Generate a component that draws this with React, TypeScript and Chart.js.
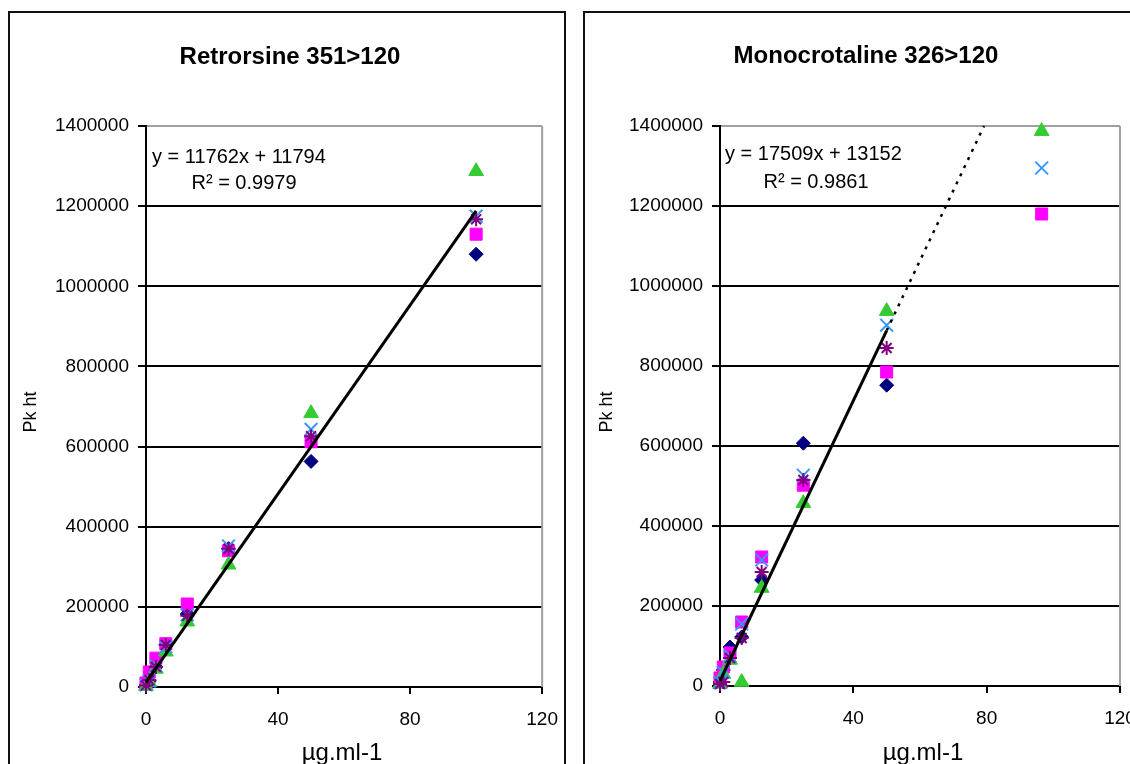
import React, { useEffect, useRef } from "react";
import { Chart, registerables } from "chart.js";

Chart.register(...registerables);

// ---------- Data ----------
const xTickValues = [0, 40, 80, 120];
const yTickValues = [0, 200000, 400000, 600000, 800000, 1000000, 1200000, 1400000];

// Retrorsine 351>120
const retConc = [0, 1, 3, 6, 12.5, 25, 50, 100];
const retNavy = [5000, 15000, 50000, 105000, 182000, 345000, 563000, 1080000];
const retMagenta = [10000, 37500, 72000, 108000, 207000, 340000, 612000, 1130000];
const retGreen = [2000, 12000, 45000, 88000, 163000, 305000, 683000, 1287000];
const retCyan = [5000, 15000, 52000, 100000, 180000, 352000, 643000, 1175000];
const retPurple = [4000, 17500, 50000, 105000, 178000, 345000, 626000, 1167000];
const retSlope = 11762;
const retIntercept = 11794;
const retFitRange = [0, 100];

// Monocrotaline 326>120
const monoConc = [0, 1, 3, 6.5, 12.5, 25, 50, 96.5];
const monoNavy = [10000, 40000, 97500, 122500, 265000, 607000, 752000, null];
const monoMagenta = [20000, 47500, 82500, 160000, 322500, 502000, 785000, 1180000];
const monoGreen = [5000, 30000, 65000, 10000, 245000, 457000, 937000, 1387000];
const monoCyan = [8000, 35000, 75000, 155000, 315000, 527000, 902000, 1295000];
const monoPurple = [5000, 10000, 70000, 120000, 285000, 515000, 845000, null];
const monoSlope = 17509;
const monoIntercept = 13152;
const monoFitRange = [0, 50];
const yMax = 1400000;

const FONT = '"Liberation Sans", Arial, Helvetica, sans-serif';

type Pt = { x: number; y: number };
const pts = (xs: number[], ys: (number | null)[]): Pt[] =>
  xs.map((x, i) => (ys[i] == null ? null : { x, y: ys[i] as number })).filter(Boolean) as Pt[];

function markerSets(xs: number[], navy: (number | null)[], magenta: (number | null)[], green: (number | null)[], cyan: (number | null)[], purple: (number | null)[]) {
  return [
    { label: "5", data: pts(xs, purple), pointStyle: "star", pointRadius: 7, borderColor: "#800080", backgroundColor: "#800080", pointBorderWidth: 2, showLine: false, clip: 20 },
    { label: "4", data: pts(xs, cyan), pointStyle: "crossRot", pointRadius: 9, borderColor: "#3399ff", backgroundColor: "#3399ff", pointBorderWidth: 2, showLine: false, clip: 20 },
    { label: "3", data: pts(xs, green), pointStyle: "triangle", pointRadius: 8.5, borderColor: "#33cc33", backgroundColor: "#33cc33", pointBorderWidth: 1, showLine: false, clip: 20 },
    { label: "2", data: pts(xs, magenta), pointStyle: "rect", pointRadius: 8.5, borderColor: "#ff00ff", backgroundColor: "#ff00ff", pointBorderWidth: 1, showLine: false, clip: 20 },
    { label: "1", data: pts(xs, navy), pointStyle: "rectRot", pointRadius: 7, borderColor: "#000080", backgroundColor: "#000080", pointBorderWidth: 1, showLine: false, clip: 20 },
  ];
}

type PanelCfg = {
  canvasLeft: number;
  canvasWidth: number;
  pad: { left: number; right: number; top: number; bottom: number };
  borderLeft: number;
  borderRight: number;
  title: string;
  titleX: number;
  titleY: number;
  yTitleX: number;
  xTitleX: number;
  eq: string;
  eqX: number;
  eqY: number;
  r2: string;
  r2X: number;
  r2Y: number;
  datasets: any[];
};

const H = 764;

function Panel({ cfg }: { cfg: PanelCfg }) {
  const ref = useRef<HTMLCanvasElement | null>(null);
  useEffect(() => {
    if (!ref.current) return;
    const ox = cfg.canvasLeft;
    const deco = {
      id: "deco",
      beforeDraw(chart: any) {
        const c = chart.ctx;
        c.save();
        c.fillStyle = "#ffffff";
        c.fillRect(0, 0, chart.width, chart.height);
        c.strokeStyle = "#111";
        c.lineWidth = 2;
        c.strokeRect(cfg.borderLeft - ox, 12, cfg.borderRight - cfg.borderLeft, 820);
        c.restore();
      },
      afterDraw(chart: any) {
        const c = chart.ctx;
        const a = chart.chartArea;
        c.save();
        c.strokeStyle = "#a0a0a0";
        c.lineWidth = 2;
        c.beginPath();
        c.moveTo(a.right, a.top);
        c.lineTo(a.right, a.bottom);
        c.stroke();
        c.fillStyle = "#000";
        c.textAlign = "center";
        c.textBaseline = "alphabetic";
        c.font = `bold 24px ${FONT}`;
        c.fillText(cfg.title, cfg.titleX - ox, cfg.titleY);
        c.font = `24px ${FONT}`;
        c.fillText("µg.ml-1", cfg.xTitleX - ox, 760);
        c.font = `20px ${FONT}`;
        c.textBaseline = "middle";
        c.textAlign = "left";
        c.fillText(cfg.eq, cfg.eqX - ox, cfg.eqY);
        c.textAlign = "center";
        c.fillText(cfg.r2, cfg.r2X - ox, cfg.r2Y);
        c.translate(cfg.yTitleX - ox, 412);
        c.rotate(-Math.PI / 2);
        c.font = `18px ${FONT}`;
        c.fillText("Pk ht", 0, 0);
        c.restore();
      },
    };
    const chart = new Chart(ref.current, {
      type: "scatter",
      data: { datasets: cfg.datasets },
      options: {
        animation: false,
        responsive: false,
        devicePixelRatio: 1,
        layout: { padding: cfg.pad },
        plugins: { legend: { display: false }, title: { display: false }, tooltip: { enabled: false } },
        scales: {
          x: {
            type: "linear",
            min: 0,
            max: 120,
            afterBuildTicks: (s: any) => {
              s.ticks = xTickValues.map((v) => ({ value: v }));
            },
            afterFit: (s: any) => {
              s.height = 40;
            },
            ticks: { color: "#000", font: { family: FONT, size: 19 }, padding: 14, maxRotation: 0 },
            grid: { drawOnChartArea: false, drawTicks: true, tickLength: 7, tickColor: "#000", tickWidth: 2, color: "#000", lineWidth: 2 },
            border: { color: "#000", width: 2 },
          },
          y: {
            type: "linear",
            min: 0,
            max: yMax,
            afterBuildTicks: (s: any) => {
              s.ticks = yTickValues.map((v) => ({ value: v }));
            },
            afterFit: (s: any) => {
              s.width = 100;
            },
            ticks: { color: "#000", font: { family: FONT, size: 19 }, padding: 9, callback: (v: any) => String(v) },
            grid: {
              drawOnChartArea: true,
              drawTicks: true,
              tickLength: 8,
              tickColor: "#000",
              tickWidth: 2,
              lineWidth: 2,
              color: (ctx: any) => (ctx.tick && ctx.tick.value === yMax ? "#a0a0a0" : "#000"),
            },
            border: { color: "#000", width: 2 },
          },
        },
      },
      plugins: [deco],
    } as any);
    return () => chart.destroy();
  }, [cfg]);
  return (
    <canvas
      ref={ref}
      width={cfg.canvasWidth}
      height={H}
      style={{ position: "absolute", left: cfg.canvasLeft, top: 0, width: cfg.canvasWidth, height: H }}
    />
  );
}

const trend = (slope: number, intercept: number, x0: number, x1: number) => [
  { x: x0, y: slope * x0 + intercept },
  { x: x1, y: slope * x1 + intercept },
];

const monoDashEnd = (yMax - monoIntercept) / monoSlope;

const leftCfg: PanelCfg = {
  canvasLeft: 0,
  canvasWidth: 572,
  pad: { left: 46, right: 28, top: 126, bottom: 37 },
  borderLeft: 9,
  borderRight: 565,
  title: "Retrorsine 351>120",
  titleX: 290,
  titleY: 64,
  yTitleX: 31,
  xTitleX: 342,
  eq: "y = 11762x + 11794",
  eqX: 152,
  eqY: 157,
  r2: "R² = 0.9979",
  r2X: 244,
  r2Y: 183,
  datasets: [
    { label: "fit", data: trend(retSlope, retIntercept, retFitRange[0], retFitRange[1]), showLine: true, pointRadius: 0, borderColor: "#000", borderWidth: 3, clip: 5 },
    ...markerSets(retConc, retNavy, retMagenta, retGreen, retCyan, retPurple),
  ],
};

const rightCfg: PanelCfg = {
  canvasLeft: 572,
  canvasWidth: 598,
  pad: { left: 48, right: 50, top: 126, bottom: 38 },
  borderLeft: 584,
  borderRight: 1200,
  title: "Monocrotaline 326>120",
  titleX: 866,
  titleY: 63,
  yTitleX: 607,
  xTitleX: 923,
  eq: "y = 17509x + 13152",
  eqX: 725,
  eqY: 154,
  r2: "R² = 0.9861",
  r2X: 816,
  r2Y: 182,
  datasets: [
    { label: "fit", data: trend(monoSlope, monoIntercept, monoFitRange[0], monoFitRange[1]), showLine: true, pointRadius: 0, borderColor: "#000", borderWidth: 3, clip: 5 },
    { label: "fit-ext", data: trend(monoSlope, monoIntercept, monoFitRange[1], monoDashEnd), showLine: true, pointRadius: 0, borderColor: "#000", borderWidth: 2.5, borderDash: [3, 6], clip: 5 },
    ...markerSets(monoConc, monoNavy, monoMagenta, monoGreen, monoCyan, monoPurple),
  ],
};

export default function App() {
  return (
    <div style={{ position: "fixed", left: 0, top: 0, width: 1130, height: 764, overflow: "hidden", background: "#fff" }}>
      <Panel cfg={leftCfg} />
      <Panel cfg={rightCfg} />
    </div>
  );
}
